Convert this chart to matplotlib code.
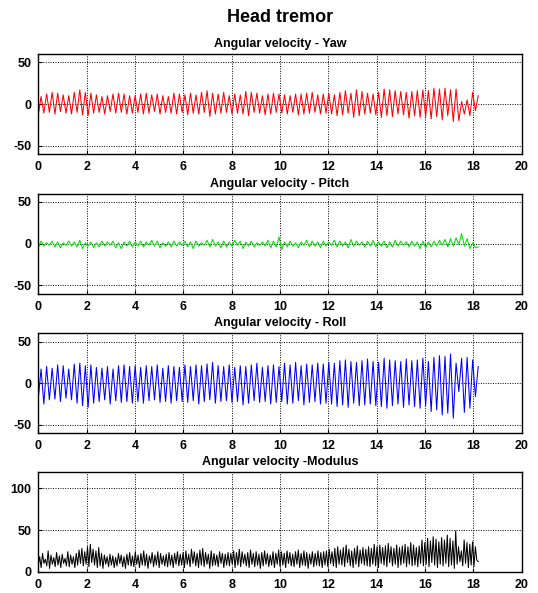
import numpy as np
import matplotlib
matplotlib.use("Agg")
import matplotlib.pyplot as plt

plt.rcParams['font.family'] = ['Liberation Sans', 'DejaVu Sans']
plt.rcParams['font.weight'] = 'bold'
plt.rcParams['axes.unicode_minus'] = False

# extrema of each signal (deg/s), trough then peak per cycle
yaw_troughs = [-13, -11, -10, -12, -9, -11, -12, -10, -13,
               -14, -11, -10, -12, -9, -11, -10, -12, -11,
               -10, -12, -11, -9, -12, -10, -11, -12, -10,
               -13, -11, -12, -10, -15, -12, -11, -10, -12,
               -11, -12, -14, -10, -11, -13, -12, -10,
               -11, -12, -10, -13, -12, -11, -10, -12, -11,
               -12, -14, -13, -11, -16, -14, -12, -11, -13,
               -16, -14, -15, -12, -13, -17, -14, -16, -15,
               -18, -15, -19, -14, -21, -20, -12, -14, -8]
yaw_peaks = [9, 12, 14, 13, 11, 10, 14, 17, 14,
             13, 11, 9, 10, 12, 13, 12, 10, 10,
             12, 13, 11, 12, 10, 9, 13, 12, 11,
             13, 11, 14, 16, 13, 12, 14, 10, 12,
             11, 15, 14, 13, 10, 12, 13, 12,
             11, 10, 12, 12, 13, 14, 11, 12, 13,
             11, 14, 16, 13, 17, 15, 13, 12, 14,
             18, 17, 16, 15, 14, 15, 16, 17, 16,
             19, 18, 19, 17, 18, 3, 5, 14, 10]

pitch_troughs = [-5, -3, -2, -4, -5, -2, -3, -4, -6,
                 -3, -5, -4, -3, -2, -5, -6, -3, -4,
                 -3, -4, -2, -3, -5, -3, -4, -3, -2,
                 -4, -6, -3, -2, -4, -3, -5, -4, -3,
                 -2, -6, -3, -4, -2, -3, -5, -4,
                 -7, -4, -3, -5, -2, -4, -3, -5, -3,
                 -2, -4, -3, -5, -3, -2, -4, -3, -4,
                 -3, -5, -4, -3, -2, -4, -3, -6, -5,
                 -4, -3, -2, -4, -3, -1, -3, -6, -5]
pitch_peaks = [3, 1, 3, 2, 1, 3, 2, 4, 1,
               2, 1, 3, 2, 3, 1, 2, 3, 2,
               3, 2, 4, 3, 1, 2, 3, 2, 3,
               2, 3, 1, 4, 5, 2, 3, 2, 4,
               3, 2, 3, 1, 2, 4, 3, 8,
               2, 3, 1, 2, 4, 3, 2, 3, 2,
               4, 3, 2, 5, 3, 2, 3, 4, 2,
               3, 2, 4, 3, 2, 3, 2, 3, 2,
               3, 4, 5, 6, 7, 12, 6, 1, -4]

roll_troughs = [-18, -25, -20, -19, -22, -18, -20, -24, -27,
                -29, -24, -22, -20, -25, -21, -23, -22, -24,
                -22, -24, -21, -20, -23, -22, -24, -21, -22,
                -23, -21, -25, -22, -20, -24, -22, -21, -23,
                -22, -26, -24, -21, -23, -22, -25, -23,
                -22, -25, -24, -21, -26, -23, -22, -25, -24,
                -25, -28, -26, -29, -24, -27, -26, -25, -27,
                -28, -30, -27, -25, -29, -26, -28, -30, -27,
                -34, -32, -38, -36, -42, -10, -35, -30, -16]
roll_peaks = [17, 20, 18, 22, 21, 17, 23, 24, 21,
              22, 19, 18, 20, 17, 21, 22, 20, 21,
              19, 21, 20, 22, 18, 21, 20, 19, 22,
              20, 22, 21, 23, 25, 21, 20, 22, 19,
              21, 20, 22, 24, 19, 21, 22, 20,
              24, 22, 25, 21, 23, 22, 24, 23, 25,
              24, 27, 28, 26, 25, 27, 29, 26, 25,
              30, 28, 27, 26, 29, 27, 28, 30, 26,
              31, 33, 32, 35, 24, 30, 31, 28, 20]

mod_troughs = [8, 5, 10, 7, 4, 9, 6, 8, 5, 10, 7, 6, 9, 5, 8, 10, 7,
               9, 6, 11, 8, 5, 7, 4, 9, 6, 8, 5, 7, 10, 6, 4, 8, 7,
               6, 9, 5, 8, 7, 4, 10, 6, 8, 5, 9, 7, 6, 8, 5, 9, 7,
               8, 5, 9, 6, 10, 7, 5, 8, 6, 9, 4, 7, 8, 6, 10, 5, 8,
               7, 9, 5, 8, 6, 10, 7, 5, 9, 6, 8, 4, 7, 9, 6, 8, 5,
               9, 6, 8, 5, 10, 7, 6, 9, 5, 8, 7, 4, 9, 6, 8, 7, 5,
               8, 6, 10, 7, 5, 9, 8, 6, 11, 7, 5, 9, 6, 10, 8, 7, 6,
               9, 7, 5, 10, 8, 6, 11, 7, 9, 5, 8, 10, 6, 9, 7, 8, 6,
               10, 7, 9, 6, 11, 8, 5, 9, 7, 10, 6, 8, 4, 9, 12, 7, 10, 5, 8, 6, 14]
mod_peaks = [18, 22, 15, 25, 20, 17, 23, 19, 21, 16, 24, 20, 18, 22, 26, 28, 24,
             30, 33, 27, 25, 29, 22, 20, 18, 21, 19, 17, 22, 20, 18, 21, 23, 19,
             24, 20, 22, 25, 21, 19, 23, 20, 24, 22, 19, 21, 23, 20, 22, 24, 21,
             23, 25, 21, 27, 24, 22, 26, 28, 23, 21, 25, 22, 20, 24, 22, 21, 23,
             22, 25, 23, 27, 24, 21, 23, 26, 22, 24, 21, 23, 25, 22, 20, 24, 22,
             26, 24, 22, 25, 23, 21, 24, 26, 22, 25, 23, 21, 24, 22, 25, 23, 24,
             25, 27, 24, 28, 30, 26, 29, 32, 27, 25, 28, 31, 26, 29, 27, 30, 28,
             33, 30, 32, 29, 31, 34, 30, 28, 32, 29, 31, 33, 30, 35, 32, 29, 31,
             38, 35, 40, 37, 42, 39, 36, 41, 38, 44, 40, 37, 49, 30, 25, 38, 35, 33, 36, 30, 12]

t_end = 18.2
panels = [
    ("Angular velocity - Yaw", yaw_troughs, yaw_peaks, 'red', (-60, 60), [-50, 0, 50]),
    ("Angular velocity - Pitch", pitch_troughs, pitch_peaks, '#00e000', (-60, 60), [-50, 0, 50]),
    ("Angular velocity - Roll", roll_troughs, roll_peaks, 'blue', (-60, 60), [-50, 0, 50]),
    ("Angular velocity -Modulus", mod_troughs, mod_peaks, 'black', (0, 120), [0, 50, 100]),
]

fig = plt.figure(figsize=(5.38, 5.93), dpi=100)
fig.suptitle("Head tremor", fontsize=13, fontweight='bold', x=0.52, y=0.985)

bottoms = [0.7403, 0.5049, 0.2695, 0.0359]
for (title, lo, hi, col, ylim, yt), b in zip(panels, bottoms):
    ax = fig.add_axes([0.0712, b, 0.8985, 0.1686])
    vals = np.column_stack([lo, hi]).ravel()
    t = np.linspace(0, t_end, len(vals))
    ax.plot(t, vals, color=col, lw=0.75)
    ax.set_xlim(0, 20)
    ax.set_ylim(*ylim)
    ax.set_xticks(range(0, 21, 2))
    ax.set_yticks(yt)
    ax.grid(True, color='black', linestyle=(0, (1, 1.5)), linewidth=0.7)
    ax.tick_params(direction='in', labelsize=9, length=3, width=0.8, pad=5)
    for lab in ax.get_xticklabels() + ax.get_yticklabels():
        lab.set_fontweight('bold')
    for sp in ax.spines.values():
        sp.set_linewidth(1.0)
    ax.set_title(title, fontsize=9, fontweight='bold', pad=5)

fig.savefig("out.png", dpi=100)
